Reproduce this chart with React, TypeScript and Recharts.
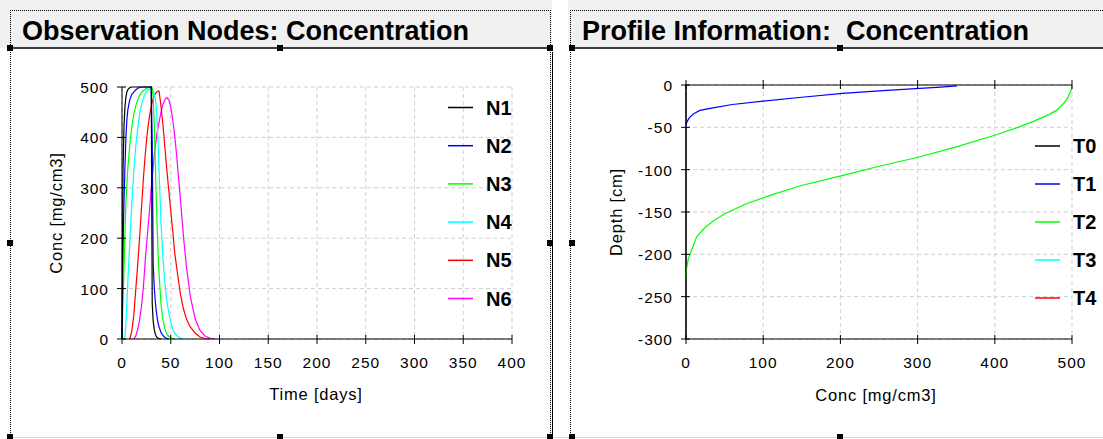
import { LineChart, Line, XAxis, YAxis, CartesianGrid } from 'recharts'

// observation nodes: concentration vs time
const time = [0, 1, 2, 3, 4, 5, 6, 8, 10, 12, 14, 16, 18, 20, 22, 24, 26, 28, 30, 31, 32, 33, 34, 35, 36, 37, 38, 40, 42, 44, 46, 48, 50, 52, 54, 56, 58, 60, 63, 66, 70, 75, 80, 85, 90, 95, 100]
const n1 = [0, 330, 420, 460, 480, 490, 495, 499, 500, 500, 500, 500, 500, 500, 500, 500, 500, 500, 500, 70, 35, 20, 11, 6, 3, 2, 1, 0, null, null, null, null, null, null, null, null, null, null, null, null, null, null, null, null, null, null, null]
const n2 = [0, 180, 270, 340, 400, 435, 455, 475, 485, 490, 494, 497, 499, 500, 500, 500, 500, 500, 500, 390, 150, 105, 78, 58, 43, 32, 24, 13, 7, 3, 1, 0, null, null, null, null, null, null, null, null, null, null, null, null, null, null, null]
const n3 = [0, 70, 137, 210, 269, 305, 340, 385, 420, 445, 462, 474, 483, 489, 493, 496, 498, 499, 500, 498, 480, 430, 360, 290, 225, 170, 130, 70, 38, 20, 10, 5, 2, 1, 0, null, null, null, null, null, null, null, null, null, null, null, null]
const n4 = [null, null, 0, 5, 30, 70, 115, 190, 265, 330, 380, 415, 445, 465, 478, 487, 493, 496, 497, 496, 492, 487, 478, 465, 435, 390, 335, 230, 160, 110, 75, 52, 33, 20, 12, 7, 4, 2, 0, null, null, null, null, null, null, null, null]
const n5 = [null, null, null, null, null, null, null, 0, 15, 45, 95, 145, 200, 260, 320, 370, 410, 440, 462, 470, 477, 482, 486, 489, 491, 492, 492, 462, 425, 380, 335, 295, 255, 215, 172, 143, 115, 88, 60, 40, 24, 12, 4, 1, 0, null, null]
const n6 = [null, null, null, null, null, null, null, null, null, 0, 5, 18, 38, 65, 105, 160, 205, 250, 300, 320, 342, 362, 380, 395, 410, 420, 430, 450, 465, 475, 479, 475, 460, 435, 405, 365, 320, 275, 205, 145, 85, 40, 17, 6, 2, 0, null]

const timeTicks = [0, 50, 100, 150, 200, 250, 300, 350, 400]
const concTicks = [0, 100, 200, 300, 400, 500]

// profile information: depth vs concentration
const t0Conc = [0, 0]
const t0Depth = [0, -300]
const t1Conc = [0, 2, 5, 10, 18, 35, 60, 100, 150, 203, 250, 303, 330, 351]
const t1Depth = [-47, -42, -38, -34, -30, -27, -23, -19, -14.5, -10, -7, -4, -2.5, -1]
const t2Conc = [0, 1, 3, 6, 14, 25, 35, 50, 79, 110, 148, 202, 250, 302, 350, 401, 430, 450, 470, 480, 490, 495, 499, 500]
const t2Depth = [-226, -215, -205, -198, -179, -168, -161, -152, -140, -130, -119, -107, -96, -85, -73, -59, -50, -43, -35, -30, -21, -14, -6, -1]

const depthTicks = [0, -50, -100, -150, -200, -250, -300]
const profileConcTicks = [0, 100, 200, 300, 400, 500]

const nodeNames = ['N1', 'N2', 'N3', 'N4', 'N5', 'N6']
const nodeColors = ['#000000', '#0000ff', '#00ff00', '#00ffff', '#ff0000', '#ff00ff']
const timeNames = ['T0', 'T1', 'T2', 'T3', 'T4']
const timeColors = ['#000000', '#0000ff', '#00ff00', '#00ffff', '#ff0000']

const nodeSeries = [n1, n2, n3, n4, n5, n6]
const nodeRows = time.map((t, i) => {
  const row: Record<string, number | null> = { time: t }
  nodeNames.forEach((name, k) => (row[name] = nodeSeries[k][i]))
  return row
})

const toRows = (conc: number[], depth: number[]) =>
  conc.map((c, i) => ({ conc: c, depth: depth[i] }))
const profileRows = [toRows(t0Conc, t0Depth), toRows(t1Conc, t1Depth), toRows(t2Conc, t2Depth)]

const FONT = '"Liberation Sans", Arial, sans-serif'
const tickText = { fontSize: 15.5, fontFamily: FONT, fill: '#000', letterSpacing: 1 }

const BottomTick = (p: any) => (
  <g>
    <line x1={p.x} x2={p.x} y1={p.y - 4} y2={p.y + 5} stroke="#000" />
    <text x={p.x} y={p.y + 29} textAnchor="middle" {...tickText}>
      {p.payload.value}
    </text>
  </g>
)

const TopTick = (p: any) => (
  <line x1={p.x} x2={p.x} y1={p.y - 5} y2={p.y + 4} stroke="#000" />
)

const LeftTick = (p: any) => (
  <g>
    <line x1={p.x - 5} x2={p.x + 4} y1={p.y} y2={p.y} stroke="#000" />
    <text x={p.x - 13} y={p.y + 6} textAnchor="end" {...tickText}>
      {p.payload.value}
    </text>
  </g>
)

const gridStroke = '#cfcfcf'

function Handle({ x, y }: { x: number; y: number }) {
  return <div style={{ position: 'absolute', left: x - 3, top: y - 3, width: 6, height: 6, background: '#000' }} />
}

export default function App() {
  return (
    <div style={{ position: 'absolute', left: 0, top: 0, width: 1103, height: 439, background: '#fff', overflow: 'hidden', fontFamily: FONT }}>
      {/* header strips */}
      <div style={{ position: 'absolute', left: 0, top: 0, width: 552, height: 48, background: '#f0f0f0' }} />
      <div style={{ position: 'absolute', left: 568, top: 0, width: 535, height: 48, background: '#f0f0f0' }} />

      <div style={{ position: 'absolute', left: 0, top: 0 }}>
        <LineChart width={560} height={439} data={nodeRows} margin={{ top: 87, right: 48, bottom: 70, left: 62 }}>
          <CartesianGrid stroke={gridStroke} strokeDasharray="4 3" />
          <XAxis
            dataKey="time"
            type="number"
            domain={[0, 400]}
            ticks={timeTicks}
            interval={0}
            height={30}
            tickSize={0}
            tickMargin={0}
            tickLine={false}
            axisLine={{ stroke: '#000' }}
            tick={BottomTick}
          />
          <YAxis
            type="number"
            domain={[0, 500]}
            ticks={concTicks}
            interval={0}
            width={60}
            tickSize={0}
            tickMargin={0}
            tickLine={false}
            axisLine={{ stroke: '#000' }}
            tick={LeftTick}
          />
          {nodeNames
            .map((name, k) => (
              <Line
                key={name}
                dataKey={name}
                type="linear"
                stroke={nodeColors[k]}
                strokeWidth={1.2}
                dot={false}
                isAnimationActive={false}
              />
            ))
            .reverse()}
        </LineChart>
      </div>

      <div style={{ position: 'absolute', left: 560, top: 0 }}>
        <LineChart width={543} height={439} margin={{ top: 84, right: 31, bottom: 70, left: 66 }}>
          <CartesianGrid stroke={gridStroke} strokeDasharray="4 3" />
          <XAxis
            dataKey="conc"
            type="number"
            domain={[0, 500]}
            ticks={profileConcTicks}
            interval={0}
            height={30}
            tickSize={0}
            tickMargin={0}
            tickLine={false}
            axisLine={{ stroke: '#000' }}
            tick={BottomTick}
            allowDuplicatedCategory={false}
          />
          <XAxis
            xAxisId="top"
            orientation="top"
            dataKey="conc"
            type="number"
            domain={[0, 500]}
            ticks={profileConcTicks}
            interval={0}
            height={1}
            tickSize={0}
            tickMargin={0}
            tickLine={false}
            axisLine={{ stroke: '#000' }}
            tick={TopTick}
          />
          <YAxis
            type="number"
            domain={[-300, 0]}
            ticks={depthTicks}
            interval={0}
            width={60}
            tickSize={0}
            tickMargin={0}
            tickLine={false}
            axisLine={{ stroke: '#000' }}
            tick={LeftTick}
          />
          {profileRows.map((rows, k) => (
            <Line
              key={timeNames[k]}
              data={rows}
              dataKey="depth"
              type="linear"
              stroke={timeColors[k]}
              strokeWidth={1.2}
              dot={false}
              isAnimationActive={false}
            />
          ))}
          <Line
            xAxisId="top"
            data={profileRows[0]}
            dataKey="depth"
            stroke="none"
            dot={false}
            legendType="none"
            isAnimationActive={false}
          />
        </LineChart>
      </div>

      {/* panel frames */}
      <div style={{ position: 'absolute', left: 10, top: 10, width: 539, height: 440, borderTop: '1px dotted #000', borderLeft: '1px dotted #000', borderRight: '1px dotted #000' }} />
      <div style={{ position: 'absolute', left: 570, top: 10, width: 560, height: 440, borderTop: '1px dotted #000', borderLeft: '1px dotted #000' }} />
      <div style={{ position: 'absolute', left: 10, top: 47, width: 542, height: 2, background: '#3c3c3c' }} />
      <div style={{ position: 'absolute', left: 572, top: 47, width: 531, height: 2, background: '#3c3c3c' }} />
      <div style={{ position: 'absolute', left: 552, top: 52, width: 1, height: 387, background: '#000' }} />
      <div style={{ position: 'absolute', left: 10, top: 437, width: 1093, height: 1, background: '#d8d8d8' }} />
      {[
        [10, 48], [280, 48], [550, 48], [10, 243], [550, 243], [10, 437], [280, 437], [550, 437],
        [572, 48], [840, 48], [572, 243], [572, 437], [840, 437],
      ].map(([x, y]) => (
        <Handle key={`${x}-${y}`} x={x} y={y} />
      ))}

      {/* text overlay */}
      <svg width={1103} height={439} style={{ position: 'absolute', left: 0, top: 0, pointerEvents: 'none' }}>
        <text x={22} y={40} fontSize={27} fontWeight="bold" fontFamily={FONT} fill="#000">
          Observation Nodes: Concentration
        </text>
        <text x={582} y={40} fontSize={27} fontWeight="bold" fontFamily={FONT} fill="#000" style={{ whiteSpace: 'pre' }}>
          {'Profile Information:  Concentration'}
        </text>

        <text x={316} y={400} textAnchor="middle" fontSize={16.5} letterSpacing={0.8} fontFamily={FONT} fill="#000">
          Time [days]
        </text>
        <text transform="translate(62 213) rotate(-90)" textAnchor="middle" fontSize={16.5} letterSpacing={0.8} fontFamily={FONT} fill="#000">
          Conc [mg/cm3]
        </text>
        <text x={876} y={401} textAnchor="middle" fontSize={16.5} letterSpacing={0.8} fontFamily={FONT} fill="#000">
          Conc [mg/cm3]
        </text>
        <text transform="translate(622 212) rotate(-90)" textAnchor="middle" fontSize={16.5} letterSpacing={0.8} fontFamily={FONT} fill="#000">
          Depth [cm]
        </text>

        {nodeNames.map((name, k) => {
          const y = 107.5 + k * 38.2
          return (
            <g key={name}>
              <line x1={448} x2={473} y1={y} y2={y} stroke={nodeColors[k]} strokeWidth={1.5} />
              <text x={486} y={y + 7} fontSize={20} fontWeight="bold" fontFamily={FONT} fill="#000">
                {name}
              </text>
            </g>
          )
        })}
        {timeNames.map((name, k) => {
          const y = 146 + k * 38
          return (
            <g key={name}>
              <line x1={1035} x2={1060} y1={y} y2={y} stroke={timeColors[k]} strokeWidth={1.5} />
              <text x={1073} y={y + 7} fontSize={20} fontWeight="bold" fontFamily={FONT} fill="#000">
                {name}
              </text>
            </g>
          )
        })}
      </svg>
    </div>
  )
}
